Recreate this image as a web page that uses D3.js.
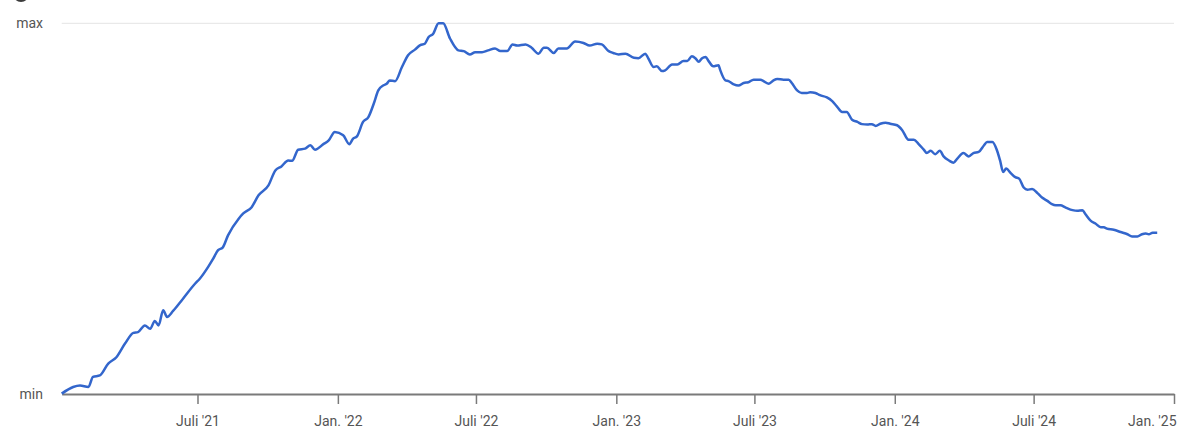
<!DOCTYPE html>
<html>
<head>
<meta charset="utf-8">
<script src="https://cdn.jsdelivr.net/npm/d3@7"></script>
<style>
  html, body { margin: 0; padding: 0; background: #fff; }
  svg { display: block; font-family: Roboto, "Noto Sans", sans-serif; }
  .tick-label { fill: #555; font-size: 14px; }
</style>
</head>
<body>
<svg id="chart"></svg>
<script>
// interest over time, relative (0 = min, 100 = max)
const dates = [
  "2021-01-04","2021-01-19","2021-01-28","2021-02-08","2021-02-14","2021-02-23","2021-03-06","2021-03-17",
  "2021-03-28","2021-04-08","2021-04-14","2021-04-23","2021-04-30","2021-05-06","2021-05-11","2021-05-17",
  "2021-05-22","2021-05-30","2021-06-12","2021-06-28","2021-07-04","2021-07-15","2021-07-21","2021-07-28",
  "2021-08-03","2021-08-10","2021-08-24","2021-08-30","2021-09-10","2021-09-19","2021-10-02","2021-10-11",
  "2021-10-19","2021-10-28","2021-11-02","2021-11-10","2021-11-19","2021-11-26","2021-12-02","2021-12-13",
  "2021-12-20","2021-12-28","2022-01-08","2022-01-16","2022-01-21","2022-01-26","2022-02-03","2022-02-10",
  "2022-02-17","2022-02-23","2022-03-02","2022-03-06","2022-03-10","2022-03-17","2022-03-26","2022-04-03",
  "2022-04-12","2022-04-19","2022-04-25","2022-04-30","2022-05-06","2022-05-13","2022-05-19","2022-05-28",
  "2022-06-08","2022-06-15","2022-06-23","2022-06-30","2022-07-09","2022-07-17","2022-07-26","2022-08-02",
  "2022-08-11","2022-08-18","2022-08-24","2022-09-04","2022-09-12","2022-09-21","2022-09-28","2022-10-02",
  "2022-10-11","2022-10-17","2022-10-28","2022-11-08","2022-11-19","2022-11-27","2022-12-07","2022-12-13",
  "2022-12-22","2022-12-28","2023-01-04","2023-01-13","2023-01-24","2023-01-30","2023-02-08","2023-02-12",
  "2023-02-19","2023-02-23","2023-03-02","2023-03-06","2023-03-15","2023-03-22","2023-03-30","2023-04-04",
  "2023-04-10","2023-04-15","2023-04-19","2023-04-23","2023-04-28","2023-05-02","2023-05-08","2023-05-15",
  "2023-05-17","2023-05-24","2023-05-28","2023-06-04","2023-06-10","2023-06-17","2023-06-23","2023-06-30",
  "2023-07-09","2023-07-13","2023-07-20","2023-07-26","2023-07-31","2023-08-08","2023-08-15","2023-08-19",
  "2023-08-26","2023-09-01","2023-09-08","2023-09-12","2023-09-19","2023-09-25","2023-10-04","2023-10-11",
  "2023-10-17","2023-10-24","2023-10-30","2023-11-06","2023-11-13","2023-11-19","2023-11-26","2023-12-02",
  "2023-12-07","2023-12-13","2023-12-20","2023-12-26","2024-01-04","2024-01-11","2024-01-19","2024-01-26",
  "2024-02-01","2024-02-08","2024-02-12","2024-02-17","2024-02-23","2024-02-29","2024-03-05","2024-03-12",
  "2024-03-18","2024-03-23","2024-03-31","2024-04-07","2024-04-13","2024-04-20","2024-04-27","2024-05-01",
  "2024-05-08","2024-05-14","2024-05-18","2024-05-22","2024-05-26","2024-06-01","2024-06-07","2024-06-12",
  "2024-06-18","2024-06-23","2024-06-29","2024-07-06","2024-07-12","2024-07-19","2024-07-25","2024-07-30",
  "2024-08-05","2024-08-12","2024-08-21","2024-08-27","2024-09-03","2024-09-07","2024-09-14","2024-09-20",
  "2024-09-27","2024-10-01","2024-10-05","2024-10-14","2024-10-23","2024-11-01","2024-11-07","2024-11-14",
  "2024-11-20","2024-11-25","2024-11-29","2024-12-04","2024-12-10"
];

const values = [
  0.1, 1.9, 2.3, 1.9, 4.6, 5.0, 8.2, 10.0,
  13.6, 16.5, 16.7, 18.5, 17.6, 19.7, 18.5, 22.6,
  20.8, 22.4, 25.7, 29.8, 31.1, 34.3, 36.3, 38.8,
  39.5, 42.8, 47.3, 48.7, 50.4, 53.6, 56.3, 60.3,
  61.4, 63.0, 62.9, 65.9, 66.2, 67.1, 65.9, 67.4,
  68.4, 70.7, 69.8, 67.4, 68.9, 69.5, 73.4, 74.7,
  78.3, 81.9, 83.3, 83.7, 84.6, 84.4, 88.2, 91.4,
  92.9, 94.1, 94.5, 96.3, 97.2, 100, 100, 95.9,
  92.7, 92.5, 91.6, 92.2, 92.2, 92.7, 93.2, 92.5,
  92.5, 94.3, 94.0, 94.3, 93.4, 91.8, 93.4, 93.4,
  92.0, 93.2, 93.2, 95.1, 94.7, 94.0, 94.5, 94.3,
  92.5, 92.0, 91.6, 91.8, 90.7, 90.6, 91.8, 90.5,
  88.2, 88.4, 87.1, 87.3, 88.9, 88.9, 89.8, 89.8,
  91.1, 90.5, 89.6, 90.5, 90.9, 89.8, 88.4, 88.7,
  87.5, 84.6, 84.4, 83.5, 83.2, 83.9, 84.1, 84.8,
  84.8, 84.4, 83.7, 84.6, 85.0, 84.8, 84.8, 83.9,
  81.9, 81.2, 81.2, 81.4, 81.2, 80.6, 80.0, 79.0,
  77.6, 76.1, 76.1, 74.0, 73.4, 72.8, 72.7, 72.8,
  72.3, 72.9, 73.2, 72.9, 72.5, 71.1, 68.6, 68.6,
  67.5, 65.9, 65.0, 65.6, 64.7, 65.6, 64.1, 63.0,
  62.4, 63.5, 65.0, 64.1, 65.0, 65.3, 67.1, 68.0,
  68.0, 65.7, 63.0, 59.9, 60.8, 59.6, 58.5, 58.1,
  55.7, 55.1, 55.3, 54.2, 53.0, 52.1, 51.2, 50.9,
  50.9, 50.3, 49.6, 49.4, 49.6, 48.5, 46.7, 46.0,
  45.0, 45.0, 44.6, 44.3, 43.7, 43.1, 42.5, 42.5,
  43.1, 43.3, 43.1, 43.5, 43.5
];

const tickDates = ["2021-07-01","2022-01-01","2022-07-01","2023-01-01","2023-07-01","2024-01-01","2024-07-01","2025-01-01"];
const tickLabels = ["Juli '21","Jan. '22","Juli '22","Jan. '23","Juli '23","Jan. '24","Juli '24","Jan. '25"];
const yLabels = ["min", "max"];

const parse = d3.timeParse("%Y-%m-%d");
const data = dates.map((d, i) => ({ date: parse(d), value: values[i] }));

const width = 1200, height = 441;
const margin = { top: 23.3, right: 26, bottom: 47, left: 61.7 };

const svg = d3.select("#chart")
  .attr("width", width)
  .attr("height", height);

// cut-off icon from the heading above the chart
svg.append("circle")
  .attr("cx", 21).attr("cy", -6).attr("r", 8)
  .attr("fill", "#3c3c3c");

const x = d3.scaleTime()
  .domain([parse("2021-01-04"), parse("2025-01-01")])
  .range([margin.left, width - margin.right]);

const y = d3.scaleLinear()
  .domain([0, 100])
  .range([height - margin.bottom, margin.top]);

// top gridline (max)
svg.append("line")
  .attr("x1", x.range()[0]).attr("x2", x.range()[1])
  .attr("y1", y(100)).attr("y2", y(100))
  .attr("stroke", "#e4e4e4")
  .attr("stroke-width", 1);

// y labels
svg.selectAll(".ylab")
  .data(yLabels)
  .enter().append("text")
  .attr("class", "tick-label")
  .attr("x", 43)
  .attr("y", (d, i) => y(i * 100))
  .attr("dy", "0.35em")
  .attr("text-anchor", "end")
  .text(d => d);

// x axis
const xAxis = svg.append("g")
  .attr("transform", "translate(0," + y(0) + ")")
  .call(d3.axisBottom(x)
    .tickValues(tickDates.map(parse))
    .tickFormat((d, i) => tickLabels[i])
    .tickSize(10)
    .tickSizeOuter(0));

xAxis.select(".domain")
  .attr("stroke", "#7a7a7a")
  .attr("stroke-width", 2);

xAxis.selectAll(".tick line")
  .attr("stroke", "#7a7a7a")
  .attr("stroke-width", 1.5);

xAxis.selectAll(".tick text")
  .attr("class", "tick-label")
  .attr("y", 32)
  .attr("dy", 0)
  .attr("text-anchor", (d, i) => i === tickLabels.length - 1 ? "end" : "middle")
  .attr("dx", (d, i) => i === tickLabels.length - 1 ? 2 : 0)
  .style("font-family", "Roboto, 'Noto Sans', sans-serif");

// the series line
const line = d3.line()
  .x(d => x(d.date))
  .y(d => y(d.value))
  .curve(d3.curveMonotoneX);

svg.append("path")
  .datum(data)
  .attr("fill", "none")
  .attr("stroke", "#3366cc")
  .attr("stroke-width", 2.5)
  .attr("stroke-linejoin", "round")
  .attr("d", line);
</script>
</body>
</html>
